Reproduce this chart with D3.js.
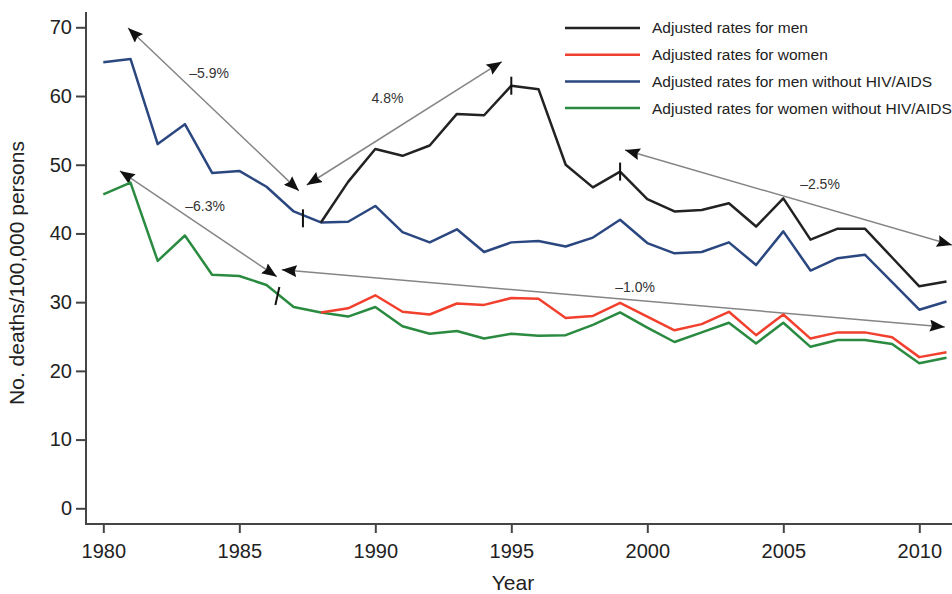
<!DOCTYPE html>
<html>
<head>
<meta charset="utf-8">
<script src="https://cdn.jsdelivr.net/npm/d3@7/dist/d3.min.js"></script>
<style>
  body { margin: 0; background: #fff; }
  svg { font-family: "Liberation Sans", Arial, sans-serif; }
</style>
</head>
<body>
<div id="chart"></div>
<script>
const years = d3.range(1980, 2012);

// adjusted rates, deaths per 100,000 (men / women start in 1988)
const men = [null, null, null, null, null, null, null, null,
  41.6, 47.5, 52.3, 51.3, 52.8, 57.4, 57.2, 61.5, 61.0, 50.0, 46.7, 49.0,
  45.0, 43.2, 43.4, 44.4, 41.0, 45.1, 39.1, 40.7, 40.7, 36.5, 32.3, 33.0];
const women = [null, null, null, null, null, null, null, null,
  28.5, 29.1, 31.0, 28.6, 28.2, 29.8, 29.6, 30.6, 30.5, 27.7, 28.0, 29.9,
  27.9, 25.9, 26.8, 28.6, 25.2, 28.2, 24.7, 25.6, 25.6, 24.9, 22.0, 22.7];
const menNoHiv = [64.9, 65.4, 53.0, 55.9, 48.8, 49.1, 46.8, 43.2,
  41.6, 41.7, 44.0, 40.2, 38.7, 40.6, 37.3, 38.7, 38.9, 38.1, 39.4, 42.0,
  38.6, 37.1, 37.3, 38.7, 35.4, 40.3, 34.6, 36.4, 36.9, 32.9, 28.9, 30.1];
const womenNoHiv = [45.7, 47.4, 36.0, 39.7, 34.0, 33.8, 32.5, 29.3,
  28.5, 27.9, 29.3, 26.5, 25.4, 25.8, 24.7, 25.4, 25.1, 25.2, 26.7, 28.5,
  26.3, 24.2, 25.6, 27.0, 24.0, 27.0, 23.5, 24.5, 24.5, 23.9, 21.1, 21.9];

const seriesNames = ["Adjusted rates for men", "Adjusted rates for women",
  "Adjusted rates for men without HIV/AIDS", "Adjusted rates for women without HIV/AIDS"];
const seriesColors = ["#222222", "#f2402e", "#2b4780", "#2a8a40"];
const seriesValues = [men, women, menNoHiv, womenNoHiv];

// joinpoint markers [year, value]
const joinpoints = [[1995, 61.5], [1999, 49.0], [1987.34, 42.2], [1986.4, 30.9]];

// trend arrows: start year, start value, end year, end value
const arrowFrom = [[1980.91, 69.9], [1987.48, 47.05], [1980.61, 49.1], [1986.56, 34.7], [1999.18, 52.15]];
const arrowTo = [[1987.19, 46.2], [1994.65, 65.0], [1986.38, 33.7], [2010.94, 26.4], [2011.2, 38.3]];
const apcLabels = ["\u20135.9%", "4.8%", "\u20136.3%", "\u20131.0%", "\u20132.5%"];
const apcLabelPos = [[1983.89, 63.4], [1990.45, 59.7], [1983.74, 44.0], [1999.55, 32.25], [2006.35, 47.2]];

const yTicks = [0, 10, 20, 30, 40, 50, 60, 70];
const xTicks = [1980, 1985, 1990, 1995, 2000, 2005, 2010];

const width = 952, height = 594;
const axisX = 86, axisY = 524;

const svg = d3.select("#chart").append("svg")
  .attr("width", width).attr("height", height);

const x = d3.scaleLinear().domain([1980, 2011]).range([103.3, 946.5]);
const y = d3.scaleLinear().domain([0, 70]).range([508.3, 27.3]);

// arrow head
svg.append("defs").append("marker")
  .attr("id", "head")
  .attr("viewBox", "0 0 15 12")
  .attr("refX", 15).attr("refY", 6)
  .attr("markerWidth", 15).attr("markerHeight", 12)
  .attr("markerUnits", "userSpaceOnUse")
  .attr("orient", "auto-start-reverse")
  .append("path").attr("d", "M0,0L15,6L0,12L2,6z").attr("fill", "#111");

// axes
const yAxis = svg.append("g")
  .attr("transform", `translate(${axisX},0)`)
  .call(d3.axisLeft(y).tickValues(yTicks).tickSize(10).tickPadding(4));
const xAxis = svg.append("g")
  .attr("transform", `translate(0,${axisY})`)
  .call(d3.axisBottom(x).tickValues(xTicks).tickFormat(d3.format("d")).tickSize(9).tickPadding(11));

[yAxis, xAxis].forEach(g => {
  g.select(".domain").remove();
  g.selectAll(".tick line").attr("stroke", "#444").attr("stroke-width", 2);
  g.selectAll(".tick text").attr("fill", "#222").style("font-size", "20px");
});
svg.append("line").attr("x1", axisX).attr("x2", axisX).attr("y1", 12).attr("y2", axisY + 1)
  .attr("stroke", "#444").attr("stroke-width", 2);
svg.append("line").attr("x1", axisX - 1).attr("x2", width).attr("y1", axisY).attr("y2", axisY)
  .attr("stroke", "#444").attr("stroke-width", 2);

svg.append("text")
  .attr("transform", `translate(24,273) rotate(-90)`)
  .attr("text-anchor", "middle")
  .attr("fill", "#222").style("font-size", "21px")
  .text("No. deaths/100,000 persons");
svg.append("text")
  .attr("x", 513).attr("y", 590)
  .attr("text-anchor", "middle")
  .attr("fill", "#222").style("font-size", "21px")
  .text("Year");

// trend arrows
svg.append("g").selectAll("line")
  .data(arrowFrom)
  .join("line")
  .attr("x1", d => x(d[0])).attr("y1", d => y(d[1]))
  .attr("x2", (d, i) => x(arrowTo[i][0])).attr("y2", (d, i) => y(arrowTo[i][1]))
  .attr("stroke", "#858585").attr("stroke-width", 1.5)
  .attr("marker-start", "url(#head)").attr("marker-end", "url(#head)");

svg.append("g").selectAll("text")
  .data(apcLabels)
  .join("text")
  .attr("x", (d, i) => x(apcLabelPos[i][0]))
  .attr("y", (d, i) => y(apcLabelPos[i][1]))
  .attr("dy", "0.35em")
  .attr("text-anchor", "middle")
  .attr("fill", "#333").style("font-size", "14px")
  .text(d => d);

// series lines (draw without-HIV first, then the totals on top)
const line = d3.line()
  .defined(d => d != null)
  .x((d, i) => x(years[i]))
  .y(d => y(d));

const order = [2, 3, 1, 0];
svg.append("g").selectAll("path")
  .data(order)
  .join("path")
  .attr("d", k => line(seriesValues[k]))
  .attr("fill", "none")
  .attr("stroke", k => seriesColors[k])
  .attr("stroke-width", 2.5)
  .attr("stroke-linejoin", "round");

// joinpoint ticks
svg.append("g").selectAll("line")
  .data(joinpoints)
  .join("line")
  .attr("x1", d => x(d[0]) + (d[0] < 1987 ? 2 : 0)).attr("x2", d => x(d[0]) - (d[0] < 1987 ? 2 : 0))
  .attr("y1", d => y(d[1]) - 9).attr("y2", d => y(d[1]) + 9)
  .attr("stroke", "#111").attr("stroke-width", 2);

// legend
const legend = svg.append("g").attr("transform", "translate(565,28)");
const rows = legend.selectAll("g")
  .data(seriesNames)
  .join("g")
  .attr("transform", (d, i) => `translate(0,${i * 26.7})`);
rows.append("line")
  .attr("x1", 0).attr("x2", 75)
  .attr("stroke", (d, i) => seriesColors[i]).attr("stroke-width", 2.5);
rows.append("text")
  .attr("x", 87).attr("dy", "0.35em")
  .attr("fill", "#222").style("font-size", "15.5px")
  .text(d => d);
</script>
</body>
</html>
